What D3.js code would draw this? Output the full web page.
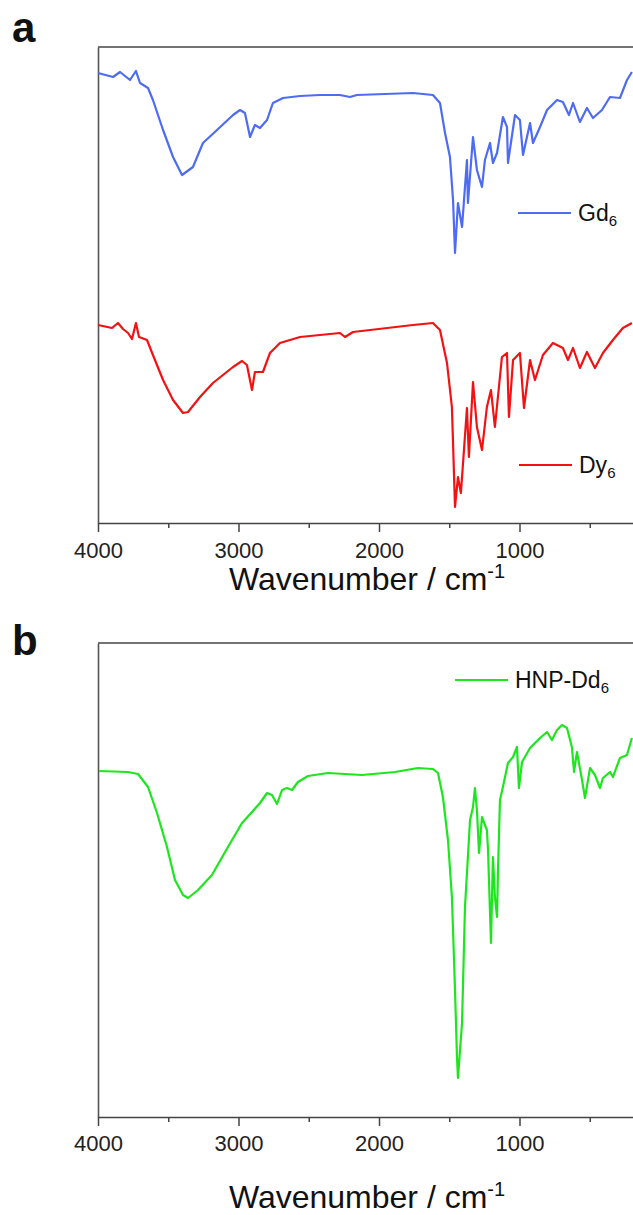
<!DOCTYPE html>
<html>
<head>
<meta charset="utf-8">
<script src="https://cdn.jsdelivr.net/npm/d3@7"></script>
<style>
  body { margin: 0; background: #fff; }
  svg { display: block; font-family: "Liberation Sans", Arial, sans-serif; }
</style>
</head>
<body>
<svg id="chart" width="633" height="1215"></svg>
<script>
// x axis ticks (cm-1)
var majorTicks = [4000, 3000, 2000, 1000];
var minorTicks = [3500, 2500, 1500, 500];

// Gd6 spectrum (panel a, upper trace), transmittance in a.u.
var gdWavenumber = [4000, 3893, 3843, 3772, 3730, 3701, 3644, 3609, 3537, 3466, 3402, 3324, 3253, 3153, 3039, 2989, 2954, 2918, 2883, 2847, 2797, 2755, 2683, 2562, 2420, 2278, 2207, 2157, 1758, 1616, 1566, 1530, 1495, 1473, 1459, 1438, 1409, 1374, 1367, 1331, 1303, 1267, 1246, 1210, 1189, 1160, 1118, 1089, 1082, 1032, 997, 975, 925, 904, 854, 804, 733, 691, 648, 619, 570, 520, 477, 413, 356, 285, 235, 200];
var gdSignal = [45.0, 44.6, 45.1, 44.3, 45.2, 44.0, 43.5, 42.3, 39.3, 36.6, 34.8, 35.6, 38.0, 39.3, 40.8, 41.3, 41.0, 38.6, 39.8, 39.5, 40.3, 42.0, 42.5, 42.7, 42.8, 42.8, 42.6, 42.8, 43.0, 42.8, 42.0, 39.0, 36.6, 32.3, 27.0, 32.0, 29.6, 36.3, 32.0, 38.6, 35.3, 33.6, 36.3, 38.0, 36.0, 37.0, 40.6, 39.6, 36.0, 40.8, 40.3, 36.8, 40.0, 38.0, 39.6, 41.3, 42.3, 42.1, 40.8, 42.0, 40.1, 41.5, 40.5, 41.3, 42.6, 42.5, 44.3, 45.1];

// Dy6 spectrum (panel a, lower trace)
var dyWavenumber = [4000, 3900, 3858, 3822, 3786, 3758, 3730, 3708, 3651, 3609, 3537, 3466, 3395, 3359, 3274, 3182, 3039, 2975, 2940, 2904, 2883, 2826, 2776, 2705, 2562, 2420, 2278, 2242, 2185, 1758, 1616, 1566, 1516, 1481, 1459, 1438, 1417, 1374, 1360, 1331, 1303, 1267, 1232, 1203, 1175, 1125, 1089, 1075, 1046, 997, 968, 925, 890, 833, 762, 691, 655, 619, 570, 520, 463, 406, 335, 264, 200];
var dySignal = [19.8, 19.5, 20.0, 19.4, 19.0, 18.4, 20.0, 18.6, 18.3, 16.8, 14.3, 12.3, 11.0, 11.1, 12.6, 14.0, 15.6, 16.2, 15.8, 13.3, 15.1, 15.1, 17.0, 18.0, 18.6, 18.8, 19.0, 18.6, 19.1, 19.8, 20.0, 19.3, 16.0, 11.6, 1.6, 4.6, 3.0, 11.5, 6.6, 14.1, 9.6, 7.3, 11.6, 13.3, 9.6, 16.6, 17.0, 10.6, 16.3, 17.0, 11.5, 16.3, 14.3, 16.8, 18.0, 17.5, 16.3, 17.5, 15.5, 17.1, 15.5, 17.0, 18.3, 19.5, 20.0];

// HNP-Dd6 spectrum (panel b)
var hnpWavenumber = [3993, 3786, 3715, 3644, 3580, 3509, 3452, 3395, 3359, 3288, 3189, 3075, 2975, 2904, 2847, 2797, 2762, 2726, 2690, 2655, 2619, 2577, 2505, 2363, 2121, 1886, 1723, 1616, 1580, 1545, 1509, 1481, 1459, 1445, 1438, 1409, 1388, 1352, 1331, 1317, 1303, 1288, 1267, 1246, 1232, 1224, 1203, 1189, 1175, 1160, 1153, 1139, 1118, 1082, 1046, 1018, 1004, 982, 925, 854, 804, 769, 733, 698, 662, 627, 612, 591, 555, 534, 498, 463, 427, 406, 356, 335, 285, 235, 200];
var hnpSignal = [34.6, 34.5, 34.3, 33.0, 30.4, 27.0, 23.7, 22.2, 21.9, 22.7, 24.2, 27.0, 29.4, 30.5, 31.4, 32.4, 32.2, 31.3, 32.7, 32.9, 32.7, 33.5, 34.1, 34.4, 34.2, 34.5, 34.9, 34.8, 34.4, 32.0, 27.7, 22.0, 12.7, 6.0, 3.9, 9.4, 21.0, 29.7, 31.0, 32.9, 30.7, 26.4, 30.0, 29.2, 28.7, 26.7, 17.4, 26.0, 22.0, 20.0, 24.7, 31.7, 33.0, 35.4, 36.0, 37.0, 32.9, 35.5, 36.9, 37.9, 38.5, 37.7, 38.7, 39.2, 38.9, 37.0, 34.5, 36.5, 33.7, 31.9, 34.9, 34.2, 32.9, 33.9, 34.5, 34.0, 35.9, 36.2, 37.9];

var svg = d3.select("#chart");

function toPoints(xs, ys) {
    return xs.map(function(d, i) { return [d, ys[i]]; });
}

// draws one framed panel with its traces and legend entries
function drawPanel(cfg) {
    var x = d3.scaleLinear().domain([4000, 0]).range([98, 660]);
    var y = d3.scaleLinear().domain(cfg.yDomain).range([cfg.bottom, cfg.top]);
    var g = svg.append("g");

    // top border
    g.append("line")
        .attr("x1", 98).attr("x2", 660)
        .attr("y1", cfg.top).attr("y2", cfg.top)
        .attr("stroke", "#444").attr("stroke-width", 1.6);

    // left axis, no ticks
    g.append("g")
        .attr("transform", "translate(98,0)")
        .call(d3.axisLeft(y).tickValues([]).tickSizeOuter(0))
        .select(".domain").attr("stroke", "#555").attr("stroke-width", 1.6);

    // minor ticks
    g.append("g")
        .attr("transform", "translate(0," + cfg.bottom + ")")
        .call(d3.axisBottom(x).tickValues(minorTicks).tickSize(5).tickFormat("").tickSizeOuter(0))
        .call(function(a) { a.select(".domain").remove(); })
        .selectAll("line").attr("stroke", "#444").attr("stroke-width", 1.5);

    // major ticks + labels
    var ax = g.append("g")
        .attr("transform", "translate(0," + cfg.bottom + ")")
        .call(d3.axisBottom(x).tickValues(majorTicks).tickFormat(d3.format("d"))
            .tickSize(9).tickPadding(cfg.pad).tickSizeOuter(0));
    ax.select(".domain").attr("stroke", "#444").attr("stroke-width", 1.6);
    ax.selectAll("line").attr("stroke", "#444").attr("stroke-width", 1.5);
    ax.selectAll("text")
        .attr("fill", "#222")
        .style("font-size", "22px")
        .style("font-family", "'Liberation Sans', Arial, sans-serif");

    // axis title
    var t = g.append("text")
        .attr("x", 367).attr("y", cfg.titleY)
        .attr("text-anchor", "middle")
        .attr("fill", "#111")
        .style("font-size", "32px");
    t.append("tspan").text("Wavenumber / cm");
    t.append("tspan").attr("dy", -12).style("font-size", "20px").text("-1");

    // panel letter
    g.append("text")
        .attr("x", 12).attr("y", cfg.letterY)
        .style("font-size", "42px").style("font-weight", "bold")
        .attr("fill", "#111")
        .text(cfg.letter);

    var line = d3.line()
        .x(function(d) { return x(d[0]); })
        .y(function(d) { return y(d[1]); });

    cfg.series.forEach(function(s) {
        g.append("path")
            .datum(toPoints(s.xs, s.ys))
            .attr("fill", "none")
            .attr("stroke", s.color)
            .attr("stroke-width", 2.2)
            .attr("stroke-linejoin", "round")
            .attr("d", line);

        g.append("line")
            .attr("x1", s.legend[0]).attr("x2", s.legend[0] + 53)
            .attr("y1", s.legend[1]).attr("y2", s.legend[1])
            .attr("stroke", s.color).attr("stroke-width", 2.2);

        var lt = g.append("text")
            .attr("x", s.legend[0] + 60).attr("y", s.legend[1] + 8)
            .attr("fill", "#111")
            .style("font-size", "23px");
        lt.append("tspan").text(s.name);
        lt.append("tspan").attr("dy", 5).style("font-size", "15px").text(s.sub);
    });
}

drawPanel({
    letter: "a", letterY: 42,
    top: 47, bottom: 523, yDomain: [0, 47.6],
    pad: 10, titleY: 590,
    series: [
        {name: "Gd", sub: "6", xs: gdWavenumber, ys: gdSignal, color: "#4d6cf2", legend: [518, 213]},
        {name: "Dy", sub: "6", xs: dyWavenumber, ys: dySignal, color: "#f21212", legend: [519, 465]}
    ]
});

drawPanel({
    letter: "b", letterY: 655,
    top: 643, bottom: 1117, yDomain: [0, 47.4],
    pad: 9, titleY: 1208,
    series: [
        {name: "HNP-Dd", sub: "6", xs: hnpWavenumber, ys: hnpSignal, color: "#1ee61e", legend: [455, 680]}
    ]
});
</script>
</body>
</html>
